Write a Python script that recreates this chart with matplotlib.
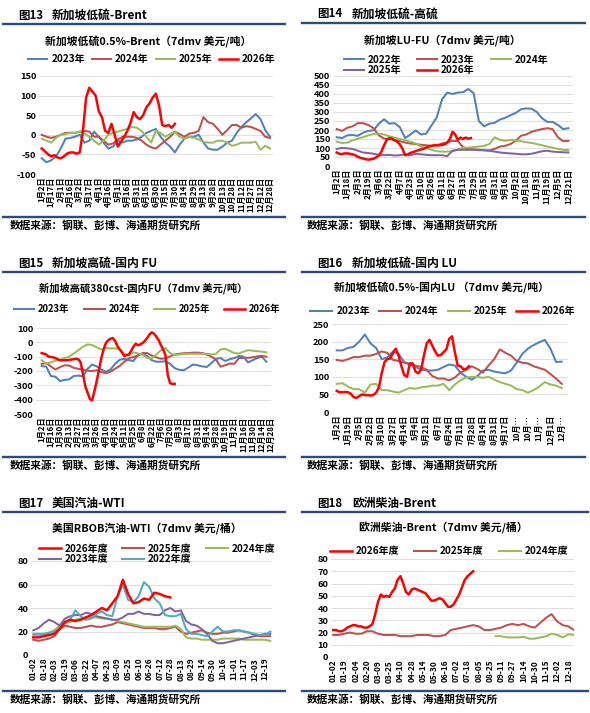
import numpy as np
import matplotlib
matplotlib.use('Agg')
import matplotlib.pyplot as plt
from matplotlib.lines import Line2D

plt.rcParams['font.family'] = ['Noto Sans CJK SC', 'DejaVu Sans']
plt.rcParams['axes.unicode_minus'] = False

W, H = 590, 713

C_BLUE = '#4F81BD'
C_BROWN = '#C0504D'
C_GREEN = '#9BBB59'
C_PURPLE = '#8064A2'
C_CYAN = '#4BACC6'
C_RED = '#FF0000'
RULE = '#2F4B7C'
SRC = '数据来源：钢联、彭博、海通期货研究所'

# ---------------- 图13 新加坡低硫-Brent (x = day, step 7.5 / 5) ----------------
p13_labels = ['1月2日', '1月17日', '2月1日', '2月16日', '3月2日', '3月17日', '4月1日', '4月16日',
              '5月1日', '5月16日', '5月31日', '6月15日', '6月30日', '7月15日', '7月30日', '8月14日',
              '8月29日', '9月13日', '9月28日', '10月13日', '10月28日', '11月12日', '11月27日',
              '12月12日', '12月28日']
p13_2023 = [-60, -70, -65, -55, -35, -10, -8, -5, 0, -20, -15, 8, -5, -20, -35, -30, -15, -20,
            -15, -15, -12, -5, 5, 10, 15, -5, -20, -30, -45, -25, -10, -5, -5, 0, -20, -35, -38,
            -38, -30, -20, -15, 5, 20, 32, 42, 53, 40, 12, -5]
p13_2024 = [0, -5, -8, -5, 0, 5, 5, 5, 8, 10, 8, -5, -5, -15, -25, -22, -12, -5, -5, -5, -8,
            -15, -25, -32, -35, -25, -15, -5, 8, 2, -5, 3, 5, 10, 45, 32, 28, 15, 0, 12, 25, 25,
            18, 22, 20, 15, 10, -5, -8]
p13_2025 = [-10, -15, -20, -8, 0, 2, 5, 5, 8, 3, -5, -15, -25, -15, 0, 5, 8, 12, 15, 20, 18,
            10, -5, -20, 10, 5, -5, 2, 8, -5, -10, -5, -8, -12, -18, -20, -20, -15, -15, -20,
            -28, -25, -20, -20, -20, -18, -38, -28, -35]
p13_2026 = [-35, -42, -50, -55, -52, -58, -60, -55, -48, -45, -45, -48, -45, 10, 95, 120, 110,
            100, 60, 45, 10, 5, 28, 0, -30, -18, -5, 10, 30, 58, 45, 40, 50, 70, 80, 95, 105,
            75, 25, 22, 25, 18, 28]

# ---------------- 图14 新加坡低硫-高硫 (x = day, step 8 / 4) ----------------
p14_labels = ['1月2日', '1月18日', '2月3日', '2月19日', '3月6日', '3月22日', '4月7日', '4月23日',
              '5月10日', '5月26日', '6月11日', '6月27日', '7月13日', '7月29日', '8月15日', '8月31日',
              '9月16日', '10月2日', '10月18日', '11月3日', '11月19日', '12月5日', '12月21日']
p14_2022 = [160, 155, 170, 172, 168, 185, 195, 198, 235, 260, 235, 238, 215, 155, 175, 198, 175,
            180, 225, 270, 370, 408, 400, 408, 410, 428, 405, 250, 220, 235, 240, 258, 268, 282,
            295, 315, 320, 318, 300, 265, 245, 245, 228, 205, 210]
p14_2023 = [205, 195, 212, 220, 238, 238, 228, 210, 170, 152, 150, 145, 138, 130, 125, 122, 118,
            115, 112, 115, 125, 132, 140, 138, 105, 95, 92, 90, 88, 86, 95, 108, 112, 122, 140,
            168, 175, 190, 198, 205, 210, 205, 160, 138, 140]
p14_2024 = [135, 128, 130, 142, 152, 160, 170, 178, 180, 175, 165, 158, 150, 142, 135, 125, 108,
            100, 90, 82, 80, 80, 82, 92, 100, 102, 105, 108, 112, 122, 160, 145, 140, 145, 142,
            138, 132, 128, 122, 115, 108, 102, 95, 90, 88]
p14_2025 = [95, 100, 98, 95, 85, 75, 72, 68, 62, 60, 62, 58, 60, 65, 60, 68, 65, 62, 60, 60, 60,
            55, 85, 90, 90, 90, 90, 88, 87, 85, 80, 75, 72, 70, 68, 65, 65, 68, 75, 82, 85, 80,
            78, 76, 75]
p14_2026 = [75, 68, 66, 70, 70, 68, 65, 60, 52, 45, 42, 38, 35, 38, 40, 48, 58, 80, 115, 145,
            155, 152, 142, 135, 120, 95, 60, 65, 72, 78, 82, 88, 92, 95, 102, 108, 112, 115, 115,
            115, 118, 120, 130, 150, 190, 175, 145, 158, 150, 158, 152, 155]

# ---------------- 图15 新加坡高硫-国内FU (x = category index, step 0.5 / 0.25) ----------------
p15_labels = ['1月2日', '1月16日', '1月30日', '2月13日', '2月27日', '3月12日', '3月26日', '4月10日',
              '4月24日', '5月11日', '5月25日', '6月8日', '6月22日', '7月6日', '7月20日', '8月3日',
              '8月17日', '8月31日', '9月14日', '9月28日', '10月19日', '11月2日', '11月16日',
              '11月30日', '12月14日', '12月28日']
p15_2023 = [-165, -170, -235, -240, -270, -262, -258, -235, -232, -238, -185, -155, -168, -190,
            -205, -190, -150, -122, -115, -125, -130, -88, -80, -95, -125, -135, -135, -132,
            -150, -180, -192, -195, -175, -155, -160, -168, -172, -145, -115, -110, -130, -118,
            -110, -95, -100, -140, -125, -110, -100, -135]
p15_2024 = [-150, -145, -168, -190, -172, -160, -162, -178, -185, -190, -198, -200, -195, -208,
            -215, -205, -185, -165, -135, -112, -102, -92, -75, -75, -92, -105, -115, -112, -98,
            -85, -80, -76, -75, -72, -72, -75, -85, -100, -120, -170, -160, -148, -150, -110,
            -108, -108, -105, -98, -95, -100]
p15_2025 = [-125, -150, -140, -128, -122, -110, -100, -78, -55, -30, -15, -18, -35, -50, -40,
            -42, -42, -48, -80, -90, -70, -78, -85, -110, -112, -85, -55, -40, -75, -90, -85,
            -82, -80, -80, -80, -80, -80, -85, -80, -50, -45, -60, -75, -78, -65, -55, -58, -62,
            -65, -70]
p15_2026 = [-75, -80, -85, -100, -102, -105, -110, -118, -125, -125, -125, -125, -122, -120,
            -118, -115, -118, -140, -220, -305, -350, -395, -405, -340, -270, -190, -110, -50,
            -5, 15, 25, 30, 10, -25, -50, -70, -95, -90, -85, -60, -30, -10, -20, -15, -5, 10,
            30, 55, 70, 60, 40, 15, -20, -50, -90, -230, -285, -290, -290]

# ---------------- 图16 新加坡低硫-国内LU (x = category index, step 0.5 / 0.25) ----------------
p16_labels = ['1月2日', '1月19日', '2月5日', '2月22日', '3月10日', '3月27日', '4月14日', '5月4日',
              '5月21日', '6月7日', '6月24日', '7月11日', '7月28日', '8月14日', '8月31日', '9月17日',
              '10月…', '10月…', '11月…', '12月1日', '12月…']
p16_2023 = [175, 175, 182, 185, 200, 220, 195, 182, 150, 155, 172, 165, 142, 136, 128, 120, 118,
            118, 120, 128, 135, 132, 112, 100, 92, 102, 118, 120, 115, 112, 110, 118, 140, 165,
            180, 190, 198, 205, 180, 142, 143]
p16_2024 = [148, 145, 150, 156, 156, 160, 160, 165, 172, 168, 148, 145, 140, 136, 132, 128, 120,
            102, 95, 95, 90, 98, 112, 120, 130, 122, 112, 132, 150, 178, 168, 160, 145, 140, 138,
            130, 125, 120, 108, 95, 80]
p16_2025 = [80, 82, 72, 65, 65, 55, 78, 80, 62, 62, 58, 55, 62, 68, 66, 70, 72, 75, 75, 80, 62,
            78, 90, 98, 100, 100, 97, 100, 92, 85, 80, 75, 65, 62, 55, 62, 72, 85, 78, 75, 68]
p16_2026 = [60, 56, 56, 57, 56, 52, 42, 40, 45, 50, 48, 48, 47, 48, 55, 70, 110, 142, 150, 152,
            168, 180, 160, 130, 105, 100, 138, 138, 115, 110, 120, 160, 195, 205, 188, 172, 160,
            162, 170, 178, 208, 215, 170, 132, 130, 122, 122, 130]

# ---------------- 图17 美国汽油-WTI (x = day, step 8) ----------------
p17_labels = ['01-02', '01-18', '02-03', '02-19', '03-06', '03-22', '04-07', '04-23', '05-09',
              '05-25', '06-10', '06-26', '07-12', '07-28', '08-13', '08-29', '09-14', '09-30',
              '10-16', '11-01', '11-17', '12-03', '12-19']
p17_2026 = [15, 15, 16, 17, 18, 22, 28, 30, 29, 30, 32, 34, 37, 40, 38, 44, 50, 64, 52, 44, 45,
            48, 47, 53, 52, 50, 49]
p17_2025 = [13, 12, 13, 14, 16, 22, 25, 24, 23, 23, 24, 25, 24, 24, 25, 26, 28, 27, 26, 25, 24,
            23, 23, 23, 22, 22, 23, 24, 20, 18, 19, 20, 21, 19, 18, 18, 19, 19, 20, 21, 20, 19,
            17, 16, 16, 16]
p17_2024 = [17, 16, 17, 19, 21, 25, 27, 28, 30, 31, 32, 32, 32, 31, 31, 30, 29, 28, 27, 26, 25,
            24, 24, 24, 24, 24, 24, 25, 22, 15, 14, 14, 13, 13, 13, 13, 14, 14, 14, 14, 13, 13,
            13, 13, 13, 12]
p17_2023 = [21, 23, 27, 30, 28, 25, 31, 33, 34, 34, 36, 35, 33, 32, 31, 30, 30, 32, 35, 35, 37,
            35, 35, 34, 34, 38, 40, 37, 38, 29, 26, 25, 22, 18, 12, 10, 10, 11, 12, 13, 14, 15,
            16, 17, 18, 18]
p17_2022 = [18, 18, 18, 19, 20, 23, 28, 30, 38, 33, 30, 31, 35, 37, 34, 33, 50, 60, 47, 45, 50,
            62, 58, 48, 44, 34, 33, 33, 35, 22, 18, 18, 17, 16, 20, 24, 20, 20, 21, 21, 20, 19,
            18, 17, 17, 20]

# ---------------- 图18 欧洲柴油-Brent (x = category index, step 0.5 / 0.25) ----------------
p18_labels = ['01-02', '01-19', '02-04', '02-20', '03-09', '03-25', '04-10', '04-28', '05-14',
              '05-30', '06-16', '07-02', '07-18', '08-05', '08-25', '09-11', '09-27', '10-14',
              '10-30', '11-15', '12-02', '12-18']
p18_2026 = [22, 22, 21, 21, 22, 24, 25, 26, 26, 25, 25, 24, 24, 25, 27, 35, 45, 51, 49, 50, 49,
            53, 56, 63, 66, 60, 53, 51, 55, 56, 55, 54, 53, 52, 49, 46, 46, 47, 48, 47, 44, 41,
            41, 43, 47, 51, 57, 63, 66, 68, 70]
p18_2025 = [18, 18, 19, 20, 19, 19, 21, 21, 19, 18, 18, 18, 17, 17, 17, 18, 18, 18, 17, 17, 18,
            22, 23, 24, 25, 26, 25, 22, 22, 23, 24, 26, 27, 26, 27, 25, 24, 28, 32, 35, 29, 26,
            25, 22]
p18_2024 = [17, 17, 16, 16, 16, 16.5, 15, 15, 16, 17, 19, 18, 16, 18.5, 18]
p18_2024_start = 14.5

fig = plt.figure(figsize=(W / 100, H / 100), dpi=100)
fig.patch.set_facecolor('white')


def fx(px):
    return px / W


def fy(py):
    return 1 - py / H


def frame(x0, x1, y_rule, y_bot, fig_no, head, x_no, x_head, x_src):
    y_head = y_rule - 9
    fig.text(fx(x_no), fy(y_head), fig_no, fontsize=8.3, fontweight='bold', va='center', ha='left')
    fig.text(fx(x_head), fy(y_head), head, fontsize=8.5, fontweight='bold', va='center', ha='left')
    fig.add_artist(Line2D([fx(x0), fx(x1)], [fy(y_rule)] * 2, color=RULE, lw=1.7))
    fig.add_artist(Line2D([fx(x0), fx(x1)], [fy(y_bot)] * 2, color=RULE, lw=1.7))
    fig.text(fx(x_src), fy(y_bot + 8), SRC, fontsize=7.7, fontweight='bold', va='center', ha='left')


def make_ax(l, r, t, b, ylim, yticks, xlim, xticks, xlabels, xfs=5.8):
    ax = fig.add_axes([fx(l), fy(b), (r - l) / W, (b - t) / H])
    ax.set_ylim(ylim)
    ax.set_yticks(yticks)
    ax.set_xlim(xlim)
    ax.set_xticks(xticks)
    ax.set_xticklabels(xlabels, rotation=90, fontsize=xfs, fontweight='bold')
    ax.tick_params(axis='y', labelsize=6.7, length=0, pad=2)
    ax.tick_params(axis='x', length=0, pad=2)
    for lab in ax.get_yticklabels():
        lab.set_fontweight('bold')
    ax.grid(axis='y', color='#D9D9D9', lw=0.6)
    ax.set_axisbelow(True)
    for s in ax.spines.values():
        s.set_visible(False)
    ax.patch.set_alpha(0)
    return ax


def legend(handles, labels, cx, cy, ncol, fs=7, hl=2.0, cs=0.8):
    fig.legend(handles, labels, loc='center', bbox_to_anchor=(fx(cx), fy(cy)), ncol=ncol,
               frameon=False, prop={'weight': 'bold', 'size': fs}, handlelength=hl,
               handletextpad=0.4, columnspacing=cs, borderpad=0, labelspacing=0.05)


LW = 1.45
LWR = 1.8

# ---- 图13 ----
frame(3, 285, 24, 217, '图13', '新加坡低硫-Brent', 18, 52, 10)
fig.text(fx(148), fy(42), '新加坡低硫0.5%-Brent（7dmv 美元/吨）', fontsize=7.8, fontweight='bold',
         ha='center', va='center')
ax = make_ax(39, 273, 76, 174, (-100, 150), range(-100, 151, 50), (-4.3, 364.7),
             np.arange(0, 361, 15), p13_labels)
h1, = ax.plot(np.arange(len(p13_2023)) * 7.5, p13_2023, color=C_BLUE, lw=LW)
h2, = ax.plot(np.arange(len(p13_2024)) * 7.5, p13_2024, color=C_BROWN, lw=LW)
h3, = ax.plot(np.arange(len(p13_2025)) * 7.5, p13_2025, color=C_GREEN, lw=LW)
h4, = ax.plot(np.arange(len(p13_2026)) * 5, p13_2026, color=C_RED, lw=LWR)
legend([h1, h2, h3, h4], ['2023年', '2024年', '2025年', '2026年'], 152, 59, 4, fs=7.2, hl=1.9, cs=0.7)

# ---- 图14 ----
frame(302, 585, 23, 217, '图14', '新加坡低硫-高硫', 317, 352, 307)
fig.text(fx(442), fy(40), '新加坡LU-FU（7dmv 美元/吨）', fontsize=7.8, fontweight='bold',
         ha='center', va='center')
ax = make_ax(333, 573, 76, 166, (0, 500), range(0, 501, 50), (-5.6, 359),
             np.arange(0, 353, 16), p14_labels)
h1, = ax.plot(np.arange(len(p14_2022)) * 8, p14_2022, color=C_BLUE, lw=LW)
h2, = ax.plot(np.arange(len(p14_2023)) * 8, p14_2023, color=C_BROWN, lw=LW)
h3, = ax.plot(np.arange(len(p14_2024)) * 8, p14_2024, color=C_GREEN, lw=LW)
h4, = ax.plot(np.arange(len(p14_2025)) * 8, p14_2025, color=C_PURPLE, lw=LW)
h5, = ax.plot(np.arange(len(p14_2026)) * 4, p14_2026, color=C_RED, lw=LWR)
legend([h1, h4, h2, h5, h3], ['2022年', '2025年', '2023年', '2026年', '2024年'], 446, 65, 3,
       fs=7.2, hl=2.0, cs=1.6)

# ---- 图15 ----
frame(3, 285, 272, 457, '图15', '新加坡高硫-国内 FU', 18, 52, 10)
fig.text(fx(143), fy(288), '新加坡高硫380cst-国内FU（7dmv 美元/吨）', fontsize=7.4, fontweight='bold',
         ha='center', va='center')
ax = make_ax(36, 271, 328, 414, (-500, 100), range(-500, 101, 100), (-0.62, 24.95),
             np.arange(len(p15_labels)), p15_labels)
h1, = ax.plot(np.arange(len(p15_2023)) * 0.5, p15_2023, color=C_BLUE, lw=LW)
h2, = ax.plot(np.arange(len(p15_2024)) * 0.5, p15_2024, color=C_BROWN, lw=LW)
h3, = ax.plot(np.arange(len(p15_2025)) * 0.5, p15_2025, color=C_GREEN, lw=LW)
h4, = ax.plot(np.arange(len(p15_2026)) * 0.25, p15_2026, color=C_RED, lw=LWR)
legend([h1, h2, h3, h4], ['2023年', '2024年', '2025年', '2026年'], 147, 309, 4, fs=6.8, hl=2.2, cs=1.5)

# ---- 图16 ----
frame(302, 585, 272, 457, '图16', '新加坡低硫-国内 LU', 317, 352, 307)
fig.text(fx(442), fy(288), '新加坡低硫0.5%-国内LU （7dmv 美元/吨）', fontsize=7.8, fontweight='bold',
         ha='center', va='center')
ax = make_ax(332, 568, 324, 412, (0, 250), range(0, 251, 50), (-0.42, 20.56),
             np.arange(len(p16_labels)), p16_labels)
h1, = ax.plot(np.arange(len(p16_2023)) * 0.5, p16_2023, color=C_BLUE, lw=LW)
h2, = ax.plot(np.arange(len(p16_2024)) * 0.5, p16_2024, color=C_BROWN, lw=LW)
h3, = ax.plot(np.arange(len(p16_2025)) * 0.5, p16_2025, color=C_GREEN, lw=LW)
h4, = ax.plot(np.arange(len(p16_2026)) * 0.25, p16_2026, color=C_RED, lw=LWR)
legend([h1, h2, h3, h4], ['2023年', '2024年', '2025年', '2026年'], 443, 311, 4, fs=7.2, hl=2.2, cs=0.9)

# ---- 图17 ----
frame(3, 285, 512, 691, '图17', '美国汽油-WTI', 18, 52, 10)
fig.text(fx(147), fy(528), '美国RBOB汽油-WTI（7dmv 美元/桶）', fontsize=7.8, fontweight='bold',
         ha='center', va='center')
ax = make_ax(31, 272, 561, 655, (0, 80), range(0, 81, 20), (-3.5, 362.6),
             np.arange(0, 353, 16), p17_labels, xfs=6)
h1, = ax.plot(np.arange(len(p17_2026)) * 8, p17_2026, color=C_RED, lw=LWR, zorder=5)
h2, = ax.plot(np.arange(len(p17_2025)) * 8, p17_2025, color=C_BROWN, lw=LW)
h3, = ax.plot(np.arange(len(p17_2024)) * 8, p17_2024, color=C_GREEN, lw=LW)
h4, = ax.plot(np.arange(len(p17_2023)) * 8, p17_2023, color=C_PURPLE, lw=LW)
h5, = ax.plot(np.arange(len(p17_2022)) * 8, p17_2022, color=C_CYAN, lw=LW, zorder=4)
legend([h1, h4, h2, h5, h3], ['2026年度', '2023年度', '2025年度', '2022年度', '2024年度'], 157, 554, 3,
       fs=7.2, hl=2.2, cs=1.4)

# ---- 图18 ----
frame(302, 588, 512, 691, '图18', '欧洲柴油-Brent', 317, 352, 307)
fig.text(fx(443), fy(528), '欧洲柴油-Brent（7dmv 美元/桶）', fontsize=7.8, fontweight='bold',
         ha='center', va='center')
ax = make_ax(331, 574, 559, 657, (0, 80), range(0, 81, 10), (-0.2, 21.5),
             np.arange(len(p18_labels)), p18_labels, xfs=6)
h1, = ax.plot(np.arange(len(p18_2026)) * 0.25, p18_2026, color=C_RED, lw=LWR, zorder=5)
h2, = ax.plot(np.arange(len(p18_2025)) * 0.5, p18_2025, color=C_BROWN, lw=LW)
h3, = ax.plot(p18_2024_start + np.arange(len(p18_2024)) * 0.5, p18_2024, color=C_GREEN, lw=LW)
legend([h1, h2, h3], ['2026年度', '2025年度', '2024年度'], 449, 551, 3, fs=7.2, hl=2.2, cs=1.5)

fig.savefig('out.png', dpi=100, facecolor='white')
